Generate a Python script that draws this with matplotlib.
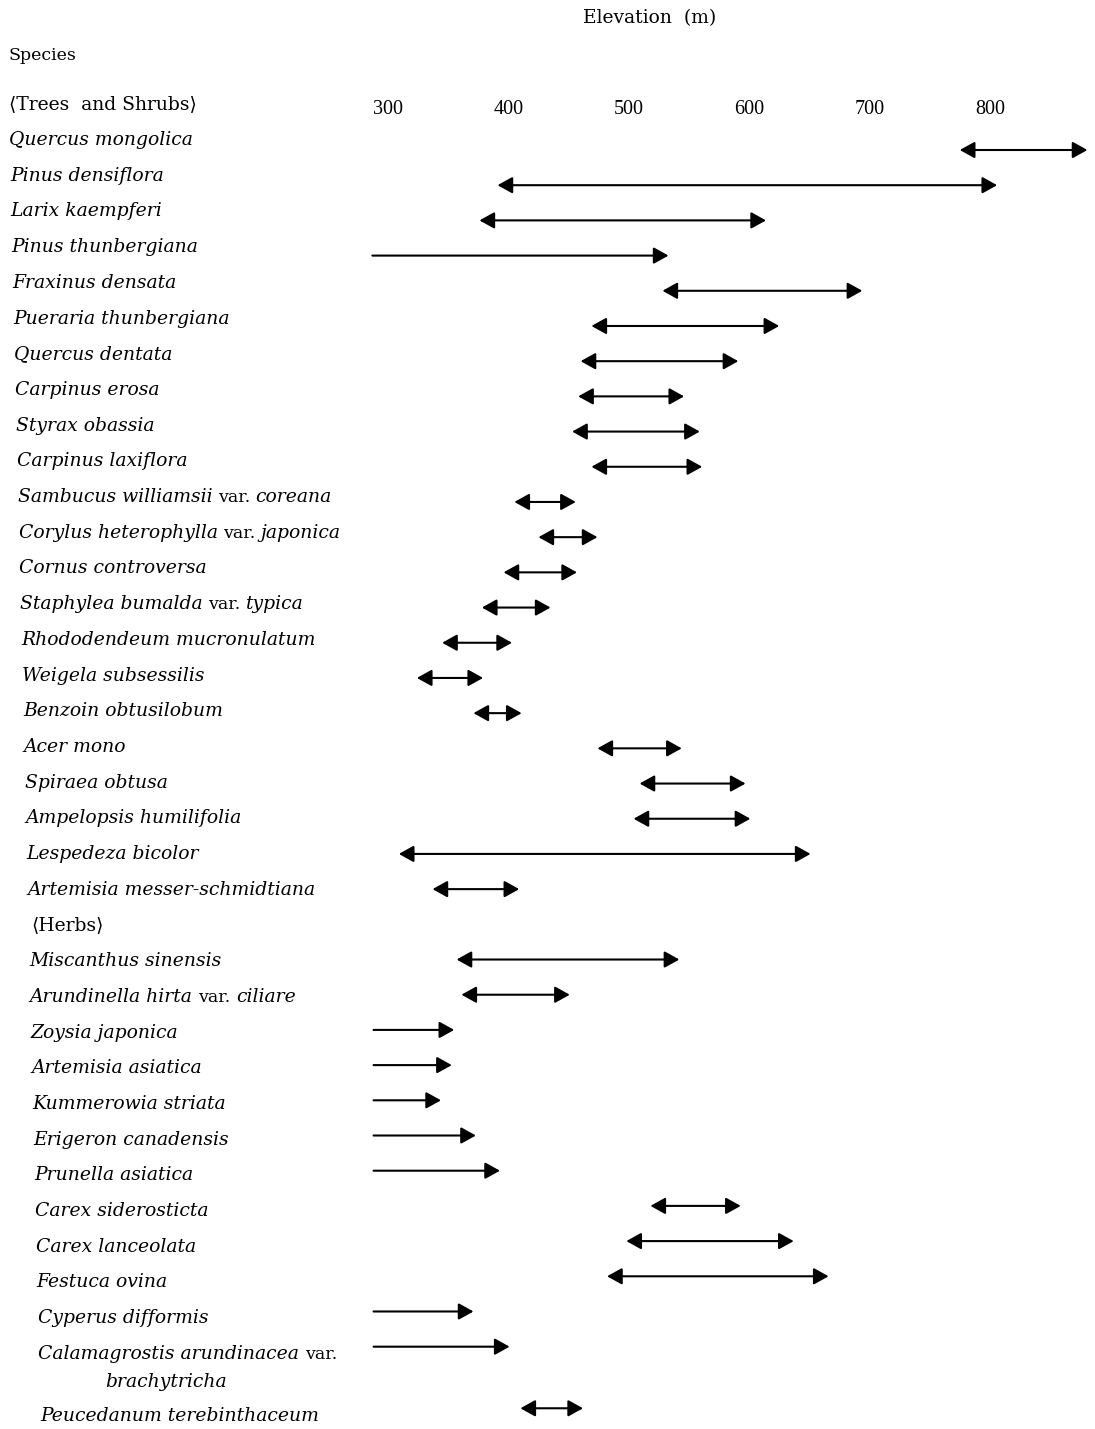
import matplotlib
matplotlib.use('Agg')
import matplotlib.pyplot as plt
from matplotlib.transforms import blended_transform_factory

# species and elevation ranges (m)
trees = ['Quercus mongolica', 'Pinus densiflora', 'Larix kaempferi', 'Pinus thunbergiana',
         'Fraxinus densata', 'Pueraria thunbergiana', 'Quercus dentata', 'Carpinus erosa',
         'Styrax obassia', 'Carpinus laxiflora', 'Sambucus williamsii var. coreana',
         'Corylus heterophylla var. japonica', 'Cornus controversa',
         'Staphylea bumalda var. typica', 'Rhododendeum mucronulatum', 'Weigela subsessilis',
         'Benzoin obtusilobum', 'Acer mono', 'Spiraea obtusa', 'Ampelopsis humilifolia',
         'Lespedeza bicolor', 'Artemisia messer-schmidtiana']
tree_low = [775, 391, 376, 287, 528, 469, 460, 458, 453, 469, 405, 425, 396, 378, 345, 324,
            371, 474, 509, 504, 309, 337]
tree_high = [881, 806, 614, 533, 694, 625, 591, 546, 559, 561, 456, 474, 457, 435, 403, 379,
             411, 544, 597, 601, 651, 409]
tree_both = [1, 1, 1, 0, 1, 1, 1, 1, 1, 1, 1, 1, 1, 1, 1, 1, 1, 1, 1, 1, 1, 1]

herbs = ['Miscanthus sinensis', 'Arundinella hirta var. ciliare', 'Zoysia japonica',
         'Artemisia asiatica', 'Kummerowia striata', 'Erigeron canadensis', 'Prunella asiatica',
         'Carex siderosticta', 'Carex lanceolata', 'Festuca ovina', 'Cyperus difformis',
         'Calamagrostis arundinacea var.\nbrachytricha', 'Peucedanum terebinthaceum']
herb_low = [357, 361, 288, 288, 288, 288, 288, 518, 498, 482, 288, 288, 410]
herb_high = [542, 451, 355, 353, 344, 373, 393, 593, 637, 666, 371, 401, 462]
herb_both = [1, 1, 0, 0, 0, 0, 0, 1, 1, 1, 0, 0, 1]

elev_ticks = [300, 400, 500, 600, 700, 800]

W, H = 1095, 1429
fig = plt.figure(figsize=(W / 100, H / 100), dpi=100)
ax = fig.add_axes([0, 0, 1, 1])
ax.set_xlim(-22.3, 887.3)
ax.set_ylim(H, 0)
ax.axis('off')
tr = blended_transform_factory(ax.transAxes, ax.transData)

serif = ['DejaVu Serif', 'DejaVu Sans']
ax.text(650 / W, 18, 'Elevation  (m)', transform=tr, ha='center', va='center',
        family=serif, fontsize=13.5)
ax.text(9 / W, 55, 'Species', transform=tr, ha='left', va='center', family=serif, fontsize=12.5)
ax.text(9 / W, 104, '\u27e8Trees  and Shrubs\u27e9', transform=tr, ha='left', va='center',
        family=serif, fontsize=13.5)
for t in elev_ticks:
    ax.text(t, 109, str(t), ha='center', va='center', family='Liberation Serif', fontsize=14.5)

rows = []
slot = 0
for names, lo, hi, both in [(trees, tree_low, tree_high, tree_both),
                            (herbs, herb_low, herb_high, herb_both)]:
    for n, a, b, d in zip(names, lo, hi, both):
        rows.append((slot, n, a, b, d))
        slot += 1.75 if '\n' in n else 1
    if names is trees:
        herb_slot = slot
        slot += 1


def ypos(s):
    return 140 + 35.7 * s


def xlab(y):
    return (9 + 0.0243 * (y - 140)) / W


ax.text(xlab(ypos(herb_slot)) + 3 / W, ypos(herb_slot), '\u27e8Herbs\u27e9', transform=tr,
        ha='left', va='center', family=serif, fontsize=13.5)

for s, name, a, b, d in rows:
    y = ypos(s)
    lines = name.split('\n')
    for k, line in enumerate(lines):
        yy = y + 28 * k
        x0 = xlab(yy) + (66 / W if k else 0)
        parts = line.split(' var.')
        prev = ax.text(x0, yy, parts[0], transform=tr, ha='left', va='center',
                       family=serif, style='italic', fontsize=13.5)
        if len(parts) > 1:
            prev = ax.annotate('var.', xy=(1, 0), xycoords=prev, xytext=(4, 0),
                               textcoords='offset points', ha='left', va='bottom',
                               family=serif, fontsize=12.5)
            if parts[1].strip():
                ax.annotate(parts[1].strip(), xy=(1, 0), xycoords=prev, xytext=(4, 0),
                            textcoords='offset points', ha='left', va='bottom',
                            family=serif, style='italic', fontsize=13.5)
    ya = y + 10 - 18 * s / 35.75
    style = '<|-|>' if d else '-|>'
    ax.annotate('', xy=(b, ya), xytext=(a, ya),
                arrowprops=dict(arrowstyle=style + ',head_length=0.45,head_width=0.25',
                                mutation_scale=20, lw=1.5, color='black',
                                shrinkA=0, shrinkB=0))

fig.savefig('out.png', dpi=100, facecolor='white')
